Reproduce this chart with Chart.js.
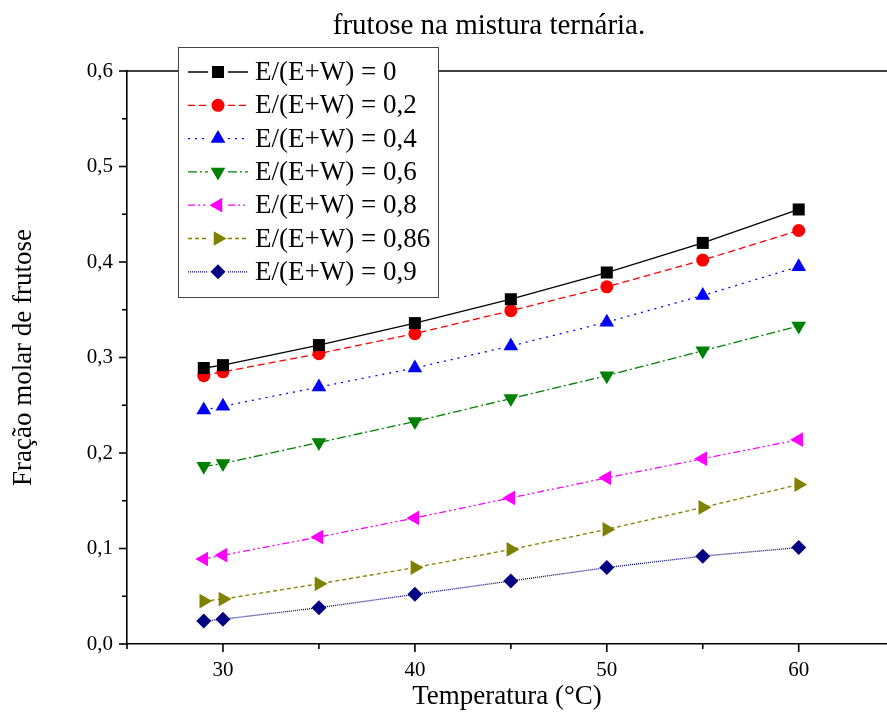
<!DOCTYPE html>
<html>
<head>
<meta charset="utf-8">
<script src="https://cdn.jsdelivr.net/npm/chart.js@4.4.1/dist/chart.umd.min.js"></script>
<style>
  html, body { margin: 0; padding: 0; background: #fff; overflow: hidden; }
  #wrap { width: 887px; height: 713px; }
</style>
</head>
<body>
<div id="wrap"><canvas id="chart" width="887" height="713"></canvas></div>
<script>
// temperatures (°C)
const temps = [29, 30, 35, 40, 45, 50, 55, 60];

// molar fraction of fructose for each E/(E+W)
const frac0 = [0.289, 0.292, 0.313, 0.336, 0.361, 0.389, 0.420, 0.455];
const frac02 = [0.281, 0.285, 0.304, 0.325, 0.349, 0.374, 0.402, 0.433];
const frac04 = [0.245, 0.249, 0.269, 0.289, 0.312, 0.337, 0.365, 0.395];
const frac06 = [0.186, 0.189, 0.211, 0.233, 0.257, 0.281, 0.307, 0.333];
const frac08 = [0.089, 0.093, 0.112, 0.132, 0.153, 0.174, 0.194, 0.214];
const frac086 = [0.045, 0.047, 0.063, 0.080, 0.099, 0.120, 0.143, 0.167];
const frac09 = [0.024, 0.026, 0.038, 0.052, 0.066, 0.080, 0.092, 0.101];

const seriesLabels = [
    "E/(E+W) = 0", "E/(E+W) = 0,2", "E/(E+W) = 0,4", "E/(E+W) = 0,6",
    "E/(E+W) = 0,8", "E/(E+W) = 0,86", "E/(E+W) = 0,9"
];

const xMajorTicks = [30, 40, 50, 60];
const xMinorTicks = [25, 35, 45, 55];
const yMajorTicks = [0, 0.1, 0.2, 0.3, 0.4, 0.5, 0.6];
const yMinorTicks = [0.05, 0.15, 0.25, 0.35, 0.45, 0.55];

const titleText = "frutose na mistura ternária.";
const serif = "'Liberation Serif', 'Times New Roman', serif";

const styles = [
    { color: "#000000", dash: [], point: "rect", radius: 8.5, rotation: 0 },
    { color: "#ff0000", dash: [7, 4], point: "circle", radius: 6.5, rotation: 0 },
    { color: "#0000ff", dash: [2, 5], point: "triangle", radius: 8.5, rotation: 0 },
    { color: "#008000", dash: [9, 3, 2, 3], point: "triangle", radius: 8.5, rotation: 180 },
    { color: "#ff00ff", dash: [7, 3, 2, 3, 2, 3], point: "triangle", radius: 8.5, rotation: 270 },
    { color: "#808000", dash: [4, 3], point: "triangle", radius: 8.5, rotation: 90 },
    { color: "#000080", dash: [1, 1], point: "rectRot", radius: 7.5, rotation: 0 }
];

const allSeries = [frac0, frac02, frac04, frac06, frac08, frac086, frac09];

const datasets = allSeries.map((vals, i) => ({
    label: seriesLabels[i],
    data: temps.map((t, k) => ({ x: t, y: vals[k] })),
    borderColor: styles[i].color,
    backgroundColor: styles[i].color,
    borderWidth: 1.3,
    borderDash: styles[i].dash,
    pointStyle: styles[i].point,
    pointRadius: styles[i].radius,
    pointRotation: styles[i].rotation,
    pointBorderWidth: 0,
    pointBackgroundColor: styles[i].color,
    showLine: true,
    tension: 0
}));

const decor = {
    id: "decor",
    afterDraw(chart) {
        const { ctx, chartArea: a, scales: { x, y } } = chart;
        ctx.save();
        ctx.strokeStyle = "#000";
        ctx.lineWidth = 1.6;
        ctx.setLineDash([]);

        // top axis line
        ctx.beginPath();
        ctx.moveTo(a.left, a.top);
        ctx.lineTo(a.right, a.top);
        ctx.stroke();

        // bottom ticks
        const xTick = (v, len) => {
            const px = x.getPixelForValue(v);
            ctx.beginPath();
            ctx.moveTo(px, a.bottom);
            ctx.lineTo(px, a.bottom + len);
            ctx.stroke();
        };
        xMajorTicks.forEach((v) => xTick(v, 8));
        xMinorTicks.forEach((v) => xTick(v, 5));

        // left ticks
        const yTick = (v, len) => {
            const py = y.getPixelForValue(v);
            ctx.beginPath();
            ctx.moveTo(a.left, py);
            ctx.lineTo(a.left - len, py);
            ctx.stroke();
        };
        yMajorTicks.forEach((v) => yTick(v, 8));
        yMinorTicks.forEach((v) => yTick(v, 5));

        // title
        ctx.fillStyle = "#000";
        ctx.font = `29px ${serif}`;
        ctx.textAlign = "center";
        ctx.textBaseline = "middle";
        ctx.fillText(titleText, 489, 26);

        // legend
        const lx = 178, ly = 47, lw = 260, lh = 250;
        ctx.fillStyle = "#fff";
        ctx.fillRect(lx, ly, lw, lh);
        ctx.strokeStyle = "#444";
        ctx.lineWidth = 1;
        ctx.strokeRect(lx + 0.5, ly + 0.5, lw, lh);

        ctx.font = `27px ${serif}`;
        ctx.textAlign = "left";
        chart.data.datasets.forEach((ds, i) => {
            const cy = ly + 25 + i * 33.3;
            ctx.strokeStyle = ds.borderColor;
            ctx.lineWidth = 1.3;
            ctx.setLineDash(ds.borderDash);
            ctx.beginPath();
            ctx.moveTo(188, cy);
            ctx.lineTo(208, cy);
            ctx.moveTo(228, cy);
            ctx.lineTo(248, cy);
            ctx.stroke();
            ctx.setLineDash([]);
            ctx.fillStyle = ds.pointBackgroundColor;
            Chart.helpers.drawPoint(ctx, {
                pointStyle: ds.pointStyle,
                radius: ds.pointRadius,
                rotation: ds.pointRotation,
                borderWidth: 0
            }, 218, cy);
            ctx.fillStyle = "#000";
            ctx.fillText(ds.label, 255, cy + 1);
        });
        ctx.restore();
    }
};

new Chart(document.getElementById("chart"), {
    type: "scatter",
    data: { datasets },
    plugins: [decor],
    options: {
        responsive: false,
        animation: false,
        layout: { autoPadding: false, padding: { top: 71, left: 0, right: 0, bottom: 0 } },
        plugins: {
            legend: { display: false },
            tooltip: { enabled: false }
        },
        scales: {
            x: {
                type: "linear",
                min: 25,
                max: 64.6,
                afterBuildTicks: (scale) => {
                    scale.ticks = xMajorTicks.map((value) => ({ value }));
                },
                afterFit: (scale) => { scale.height = 69; },
                grid: { display: false, drawTicks: false, tickLength: 0 },
                border: { display: true, color: "#000", width: 1.6 },
                ticks: {
                    color: "#000",
                    font: { family: serif, size: 21 },
                    padding: 14,
                    maxRotation: 0,
                    callback: (v) => String(v)
                },
                title: {
                    display: true,
                    text: "Temperatura (°C)",
                    color: "#000",
                    font: { family: serif, size: 27 },
                    padding: { top: 0, bottom: 0 }
                }
            },
            y: {
                min: 0,
                max: 0.6,
                afterFit: (scale) => { scale.width = 127; },
                grid: { display: false, drawTicks: false, tickLength: 0 },
                border: { display: true, color: "#000", width: 1.6 },
                ticks: {
                    stepSize: 0.1,
                    color: "#000",
                    font: { family: serif, size: 21 },
                    padding: 14,
                    callback: (v) => v.toFixed(1).replace(".", ",")
                },
                title: {
                    display: true,
                    text: "Fração molar de frutose",
                    color: "#000",
                    font: { family: serif, size: 27 },
                    padding: { top: 8, bottom: 0 }
                }
            }
        }
    }
});
</script>
</body>
</html>
